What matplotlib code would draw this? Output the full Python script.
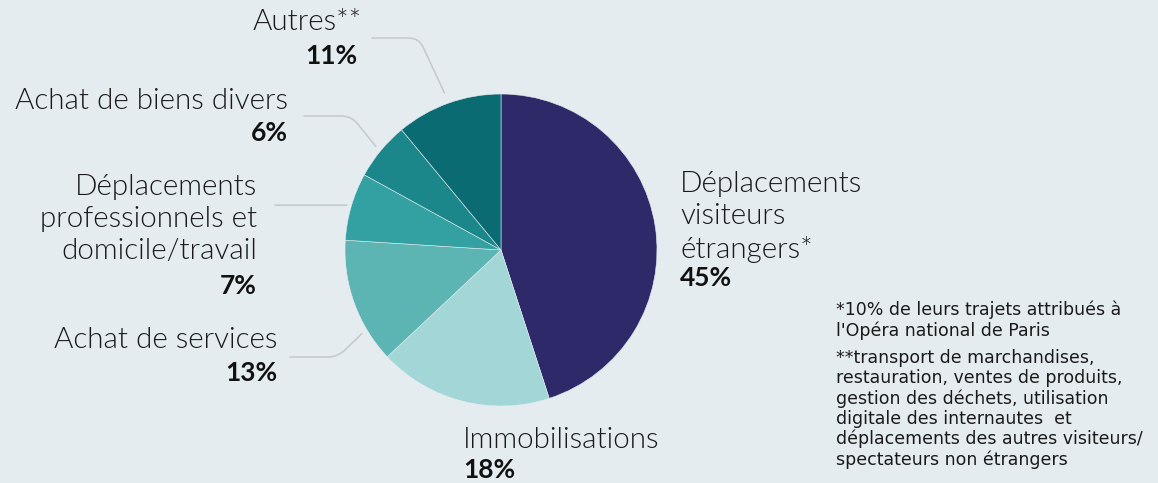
import numpy as np
import matplotlib
matplotlib.use("Agg")
import matplotlib.pyplot as plt

# données
categories = ["Déplacements\nvisiteurs\nétrangers*", "Immobilisations", "Achat de services",
              "Déplacements\nprofessionnels et\ndomicile/travail", "Achat de biens divers", "Autres**"]
shares = [45, 18, 13, 7, 6, 11]
colors = ["#2e2a69", "#a3d6d7", "#5cb5b3", "#33a1a2", "#1c878b", "#0a6b73"]

notes = ["*10% de leurs trajets attribués à\nl'Opéra national de Paris",
         "**transport de marchandises,\nrestauration, ventes de produits,\n"
         "gestion des déchets, utilisation\ndigitale des internautes  et\n"
         "déplacements des autres visiteurs/\nspectateurs non étrangers"]

W, H = 1158, 483
BG = "#e5ecf0"
LINE = "#c9cacd"
FONT = ["Lato", "DejaVu Sans"]
NOTE_FONT = ["DejaVu Sans"]

fig = plt.figure(figsize=(W / 100, H / 100), dpi=100, facecolor=BG)
ax = fig.add_axes([0, 0, 1, 1])
ax.set_facecolor(BG)

cx, cy, R = 501, H - 250, 156
wedges, _ = ax.pie(shares, colors=colors, startangle=90, counterclock=False,
                   center=(cx, cy), radius=R,
                   wedgeprops=dict(linewidth=0.4, edgecolor=BG))
ax.set_xlim(0, W)
ax.set_ylim(0, H)
ax.set_aspect("auto")
ax.axis("off")

# position des étiquettes (x, y centre du nom, alignement, y du pourcentage)
label_pos = [
    (680, 217, "left", 278),
    (463, 440, "left", 470),
    (277, 340, "right", 373),
    (257, 219, "right", 286),
    (288, 101, "right", 133),
    (362, 22, "right", 56),
]
for cat, v, (x, y, ha, py) in zip(categories, shares, label_pos):
    ax.text(x, H - y, cat, ha=ha, va="center", fontsize=21.3, family=FONT,
            fontweight=300, color="#1a1a1a", linespacing=1.3)
    px = x - 5 if cat == "Autres**" else x
    ax.text(px, H - py, f"{v}%", ha=ha, va="center", fontsize=19, family=FONT,
            fontweight="bold", color="#111111")

# traits de rappel : (index tranche, angle d'ancrage, facteur rayon, x fin, y trait, angleB)
leaders = [
    (5, None, 1.07, 372, 38, 115),
    (4, None, 1.04, 304, 116, 129),
    (3, None, 1.03, 275, 205, None),
    (2, 211, 1.04, 290, 357, 44),
]
for i, ang, f, xe, ye, angB in leaders:
    w = wedges[i]
    a = ang if ang is not None else (w.theta1 + w.theta2) / 2
    sx = cx + f * R * np.cos(np.radians(a))
    sy = cy + f * R * np.sin(np.radians(a))
    if angB is None:
        cs = "arc3"
        ye_ = sy
    else:
        cs = f"angle,angleA=0,angleB={angB},rad=10"
        ye_ = H - ye
    ax.annotate("", xy=(sx, sy), xytext=(xe, ye_),
                arrowprops=dict(arrowstyle="-", color=LINE, lw=1.2,
                                shrinkA=0, shrinkB=0, connectionstyle=cs))

# notes
ax.text(836, H - 320, notes[0], ha="left", va="center", fontsize=12.5,
        family=NOTE_FONT, color="#1a1a1a", linespacing=1.15)
ax.text(836, H - 409, notes[1], ha="left", va="center", fontsize=12.5,
        family=NOTE_FONT, color="#1a1a1a", linespacing=1.15)

fig.savefig("out.png", dpi=100, facecolor=BG)
